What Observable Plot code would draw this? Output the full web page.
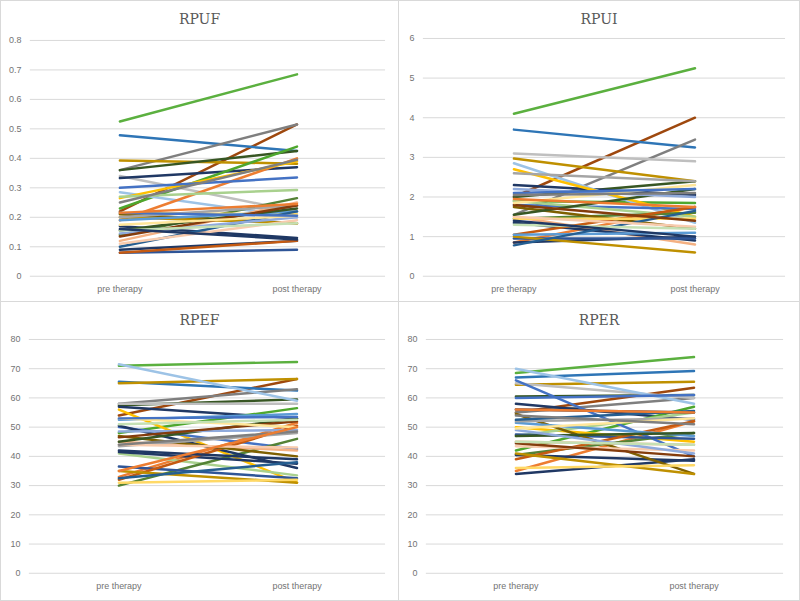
<!DOCTYPE html>
<html>
<head>
<meta charset="utf-8">
<script src="https://cdn.jsdelivr.net/npm/d3@7"></script>
<script src="https://cdn.jsdelivr.net/npm/@observablehq/plot@0.6"></script>
<style>
  html, body { margin: 0; padding: 0; background: #fff; }
  #wrap { position: relative; width: 800px; height: 601px; overflow: hidden; background: #fff; }
  .panel { position: absolute; box-sizing: border-box; border: 1px solid #d9d9d9; background: #fff; }
  .title { position: absolute; left: 0; right: 0; text-align: center; font-family: "DejaVu Serif", "Liberation Serif", serif; font-size: 14px; color: #595959; }
  .panel svg { position: absolute; left: -1px; }
</style>
</head>
<body>
<div id="wrap"></div>
<script>
const categories = ["pre therapy", "post therapy"];

const colors = [
  "#5BB03F", "#9E480E", "#2E75B6", "#7F7F7F", "#BF9000", "#375623",
  "#BFBFBF", "#203864", "#4EA72E", "#9DC3E6", "#ED7D31", "#FFC000",
  "#4472C4", "#A9D18E", "#548235", "#F4B183", "#1F3864", "#203864",
  "#2F5597", "#C55A11", "#7F6000", "#BF9000", "#FFD966", "#5B9BD5",
  "#A5A5A5", "#255E91", "#F8CBAD", "#385723", "#8FAADC", "#843C0C",
  "#FFE699", "#C5E0B4", "#1F3864", "#4472C4", "#7F7F7F", "#ED7D31"
];

const rpufPre  = [0.525, 0.22, 0.478, 0.36, 0.393, 0.36, 0.34, 0.333, 0.23, 0.285, 0.19, 0.265,
                  0.30, 0.27, 0.14, 0.12, 0.17, 0.09, 0.08, 0.08, 0.21, 0.20, 0.215, 0.19,
                  0.20, 0.10, 0.11, 0.155, 0.145, 0.135, 0.175, 0.155, 0.16, 0.215, 0.25, 0.215];
const rpufPost = [0.685, 0.515, 0.425, 0.515, 0.382, 0.425, 0.22, 0.37, 0.44, 0.20, 0.40, 0.39,
                  0.335, 0.293, 0.265, 0.25, 0.13, 0.12, 0.09, 0.12, 0.18, 0.18, 0.21, 0.22,
                  0.24, 0.22, 0.19, 0.23, 0.20, 0.24, 0.205, 0.18, 0.125, 0.205, 0.395, 0.245];

const rpuiPre  = [4.1, 2.0, 3.7, 1.55, 2.97, 2.0, 3.1, 2.3, 1.9, 2.85, 0.85, 2.7,
                  1.8, 1.9, 1.45, 1.5, 1.35, 0.85, 0.95, 1.05, 1.75, 1.0, 1.45, 1.05,
                  2.6, 0.78, 1.5, 1.55, 2.2, 1.8, 1.85, 1.3, 1.4, 2.1, 2.05, 1.95];
const rpuiPost = [5.25, 4.0, 3.25, 3.45, 2.4, 2.4, 2.9, 2.05, 1.85, 1.35, 1.75, 1.5,
                  1.7, 1.5, 1.6, 0.8, 0.9, 1.0, 0.95, 1.75, 1.2, 0.6, 1.45, 1.1,
                  2.4, 1.65, 1.25, 2.2, 2.0, 1.4, 2.3, 1.2, 1.0, 2.2, 2.1, 1.75];

const rpefPre  = [71, 54, 65.5, 58, 65, 57.5, 58, 57, 48, 71.5, 33, 56,
                  50, 41, 30, 45, 50.5, 41.5, 36.5, 32, 47, 35, 31, 52.5,
                  43.5, 32.5, 44, 45, 48.5, 46.5, 53, 51, 42, 53, 44, 35];
const rpefPost = [72.3, 66.5, 62.5, 63, 66.5, 59.5, 58, 53, 56.5, 59, 51.5, 31,
                  42.5, 33.5, 46, 42, 36, 37.5, 32.5, 50.5, 40, 31, 32, 54.5,
                  48, 38, 43, 53, 49, 52, 50, 52.5, 39, 53.5, 48.5, 50];

const rperPre  = [68.5, 55, 67, 55, 64.5, 60.5, 65, 58, 42, 70, 35, 50,
                  66, 47, 40.5, 45, 40.5, 34, 47.5, 39, 54.5, 41, 36, 51.5,
                  52, 52.5, 43.5, 47, 49, 44.5, 49.5, 45, 56, 60, 54, 56];
const rperPost = [74, 63.5, 69.2, 60, 65.5, 61, 60, 52.5, 57, 58, 52, 45,
                  40, 55, 48, 44, 38.5, 39, 46, 52, 34, 34, 37, 47,
                  53, 55.5, 42, 48, 41, 40, 53, 44, 55, 61, 51, 55];

function rows(pre, post) {
  const out = [];
  pre.forEach((v, i) => {
    out.push({id: i, cat: categories[0], v: v, c: colors[i]});
    out.push({id: i, cat: categories[1], v: post[i], c: colors[i]});
  });
  return out;
}

const panels = [
  {title: "RPUF", pre: rpufPre, post: rpufPost, domain: [0, 0.8], ticks: d3.range(0, 0.81, 0.1).map(d => +d.toFixed(1)), fmt: d => d === 0 ? "0" : d.toFixed(1),
   left: 0, top: 0, w: 399, h: 302, mt: 10, mb: 25, ml: 30, mr: 12},
  {title: "RPUI", pre: rpuiPre, post: rpuiPost, domain: [0, 6], ticks: d3.range(0, 7, 1), fmt: d => String(d),
   left: 398, top: 0, w: 402, h: 302, mt: 8, mb: 25, ml: 25, mr: 13},
  {title: "RPEF", pre: rpefPre, post: rpefPost, domain: [0, 80], ticks: d3.range(0, 81, 10), fmt: d => String(d),
   left: 0, top: 301, w: 399, h: 300, mt: 8, mb: 27, ml: 29, mr: 12},
  {title: "RPER", pre: rperPre, post: rperPost, domain: [0, 80], ticks: d3.range(0, 81, 10), fmt: d => String(d),
   left: 398, top: 301, w: 402, h: 300, mt: 8, mb: 27, ml: 28, mr: 15}
];

const wrap = document.getElementById("wrap");
const titleH = 30;

panels.forEach(p => {
  const div = document.createElement("div");
  div.className = "panel";
  div.style.left = p.left + "px";
  div.style.top = p.top + "px";
  div.style.width = p.w + "px";
  div.style.height = p.h + "px";
  const t = document.createElement("div");
  t.className = "title";
  t.style.top = "10px";
  t.textContent = p.title;
  div.appendChild(t);

  const svgH = p.h - titleH;
  const chart = Plot.plot({
    width: p.w,
    height: svgH,
    marginTop: p.mt,
    marginBottom: p.mb,
    marginLeft: p.ml,
    marginRight: p.mr,
    style: {fontFamily: "'Liberation Sans', Arial, sans-serif", fontSize: "9px", color: "#737373", background: "transparent"},
    x: {type: "point", domain: categories, padding: 0.5, label: null},
    y: {domain: p.domain, label: null},
    color: {type: "identity"},
    marks: [
      Plot.gridY(p.ticks, {stroke: "#d9d9d9", strokeOpacity: 1, strokeWidth: 1}),
      Plot.axisY(p.ticks, {tickSize: 0, tickPadding: 9, tickFormat: p.fmt, fill: "#737373", fontSize: 9}),
      Plot.axisX({tickSize: 0, tickPadding: 9, fill: "#737373", fontSize: 9}),
      Plot.line(rows(p.pre, p.post), {x: "cat", y: "v", z: "id", stroke: "c", strokeWidth: 2.5, strokeLinecap: "round"})
    ]
  });
  chart.style.top = (titleH - 1) + "px";
  div.appendChild(chart);
  wrap.appendChild(div);
});
</script>
</body>
</html>
